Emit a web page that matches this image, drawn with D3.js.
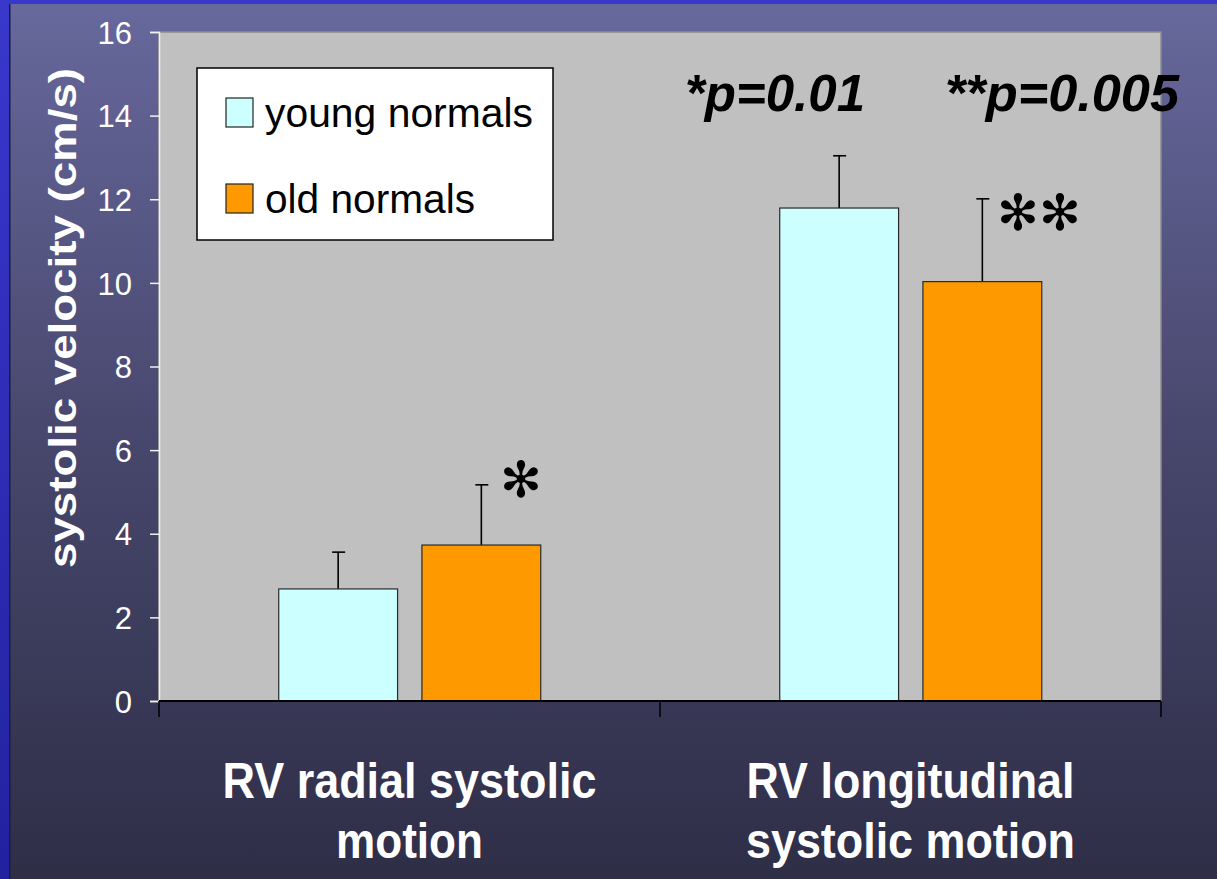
<!DOCTYPE html>
<html>
<head>
<meta charset="utf-8">
<script src="https://cdn.jsdelivr.net/npm/d3@7"></script>
<style>
  html, body { margin: 0; padding: 0; background: #2a2ab0; }
  svg { display: block; }
  text { font-family: "Liberation Sans", Arial, sans-serif; }
</style>
</head>
<body>
<svg id="chart" width="1217" height="879"></svg>
<script>
// Group labels (two lines each)
const groups = ["radial", "longitudinal"];
const groupLabels = [["RV radial systolic", "motion"], ["RV longitudinal", "systolic motion"]];
// Series
const series = ["young normals", "old normals"];
const seriesColors = ["#ccffff", "#ff9900"];
// Means and standard deviations (cm/s), per series, ordered by group
const youngMeans = [2.68, 11.79];
const youngSD = [0.88, 1.25];
const oldMeans = [3.73, 10.03];
const oldSD = [1.44, 1.98];
// Y axis ticks
const yTicks = [0, 2, 4, 6, 8, 10, 12, 14, 16];
// Significance notes
const pNotes = ["*p=0.01", "**p=0.005"];
const sigMarks = ["✻", "✻✻"];

const W = 1217, H = 879;
const plot = { left: 159, right: 1161, top: 32, bottom: 701 };

const svg = d3.select("#chart");
const defs = svg.append("defs");

// Slide background
const bg = defs.append("linearGradient").attr("id", "bg").attr("x1", 0).attr("y1", 0).attr("x2", 0).attr("y2", 1);
bg.append("stop").attr("offset", "0%").attr("stop-color", "#67689c");
bg.append("stop").attr("offset", "50%").attr("stop-color", "#47476d");
bg.append("stop").attr("offset", "100%").attr("stop-color", "#2e2e47");
const frame = defs.append("linearGradient").attr("id", "frame").attr("x1", 0).attr("y1", 0).attr("x2", 0).attr("y2", 1);
frame.append("stop").attr("offset", "0%").attr("stop-color", "#3838cc");
frame.append("stop").attr("offset", "100%").attr("stop-color", "#2222a0");

svg.append("rect").attr("width", W).attr("height", H).attr("fill", "url(#frame)");
svg.append("rect").attr("x", 10).attr("y", 4).attr("width", W - 10).attr("height", H - 4).attr("fill", "url(#bg)");
svg.append("rect").attr("x", 9).attr("y", 4).attr("width", 1.5).attr("height", H - 4).attr("fill", "#1c1c3a");

// Scales
const x0 = d3.scaleBand().domain(groups).range([plot.left, plot.right]).padding(0);
const x1 = d3.scaleBand().domain(series)
  .range([x0.bandwidth() * 0.239, x0.bandwidth() * 0.762]).paddingInner(0.17).paddingOuter(0);
const y = d3.scaleLinear().domain([0, 16]).range([plot.bottom, plot.top]);

// Plot area
svg.append("rect")
  .attr("x", plot.left).attr("y", plot.top)
  .attr("width", plot.right - plot.left).attr("height", plot.bottom - plot.top)
  .attr("fill", "#c0c0c0").attr("stroke", "#8c8c8c").attr("stroke-width", 1.5);

// Y axis
const yAxis = svg.append("g").attr("transform", `translate(${plot.left},0)`)
  .call(d3.axisLeft(y).tickValues(yTicks).tickSize(9).tickPadding(18));
yAxis.select(".domain").attr("stroke", "#f0f0f0").attr("stroke-width", 1.5);
yAxis.selectAll(".tick line").attr("stroke", "#f0f0f0").attr("stroke-width", 1.5);
yAxis.selectAll(".tick text").attr("fill", "#ffffff").attr("font-size", 31)
  .attr("font-family", "'Liberation Sans', Arial, sans-serif").attr("dy", "0.36em");

// Bars
const rows = groups.map((g, i) => ({
  group: g,
  values: [
    { key: series[0], mean: youngMeans[i], sd: youngSD[i], color: seriesColors[0] },
    { key: series[1], mean: oldMeans[i], sd: oldSD[i], color: seriesColors[1] }
  ]
}));

const gGroups = svg.append("g").selectAll("g").data(rows).join("g")
  .attr("transform", d => `translate(${x0(d.group)},0)`);

// Error bars (upper side)
gGroups.selectAll("g.err").data(d => d.values).join("g").attr("class", "err")
  .each(function(d) {
    const cx = x1(d.key) + x1.bandwidth() / 2;
    const g = d3.select(this);
    g.append("line").attr("x1", cx).attr("x2", cx)
      .attr("y1", y(d.mean)).attr("y2", y(d.mean + d.sd))
      .attr("stroke", "#000").attr("stroke-width", 1.6);
    g.append("line").attr("x1", cx - 6).attr("x2", cx + 7)
      .attr("y1", y(d.mean + d.sd)).attr("y2", y(d.mean + d.sd))
      .attr("stroke", "#000").attr("stroke-width", 1.6);
  });

gGroups.selectAll("rect").data(d => d.values).join("rect")
  .attr("x", d => x1(d.key))
  .attr("y", d => y(d.mean))
  .attr("width", x1.bandwidth())
  .attr("height", d => y(0) - y(d.mean))
  .attr("fill", d => d.color)
  .attr("stroke", "#2a2a2a").attr("stroke-width", 1.2);

// X axis
const xAxis = svg.append("g").attr("transform", `translate(0,${plot.bottom})`);
xAxis.append("line").attr("x1", plot.left).attr("x2", plot.right).attr("y1", 0).attr("y2", 0)
  .attr("stroke", "#000").attr("stroke-width", 2);
const boundaries = [plot.left].concat(groups.map(g => x0(g) + x0.bandwidth()));
xAxis.selectAll("line.tk").data(boundaries).join("line").attr("class", "tk")
  .attr("x1", d => d).attr("x2", d => d).attr("y1", 0).attr("y2", 16)
  .attr("stroke", "#000").attr("stroke-width", 1.5);

// Group labels
const labelWidths = [[374, 147], [328, 329]];
groups.forEach((g, i) => {
  const cx = x0(g) + x0.bandwidth() / 2;
  groupLabels[i].forEach((line, j) => {
    svg.append("text")
      .attr("x", cx).attr("y", 798 + j * 60)
      .attr("text-anchor", "middle")
      .attr("font-size", 50).attr("font-weight", "bold").attr("fill", "#ffffff")
      .attr("textLength", labelWidths[i][j]).attr("lengthAdjust", "spacingAndGlyphs")
      .text(line);
  });
});

// Y axis title
svg.append("text")
  .attr("transform", `translate(76,318) rotate(-90)`)
  .attr("text-anchor", "middle")
  .attr("font-size", 39).attr("font-weight", "bold").attr("fill", "#ffffff")
  .attr("textLength", 500).attr("lengthAdjust", "spacingAndGlyphs")
  .text("systolic velocity (cm/s)");

// Legend
const legend = svg.append("g").attr("transform", "translate(197,68)");
legend.append("rect").attr("width", 356).attr("height", 172)
  .attr("fill", "#ffffff").attr("stroke", "#000").attr("stroke-width", 1.5);
const legendWidths = [268, 210];
series.forEach((s, i) => {
  const row = legend.append("g").attr("transform", `translate(29,${30 + i * 86})`);
  row.append("rect").attr("width", 27).attr("height", 29)
    .attr("fill", seriesColors[i]).attr("stroke", "#222").attr("stroke-width", 1.2);
  row.append("text").attr("x", 39).attr("y", 29)
    .attr("font-size", 41).attr("fill", "#000")
    .attr("textLength", legendWidths[i]).attr("lengthAdjust", "spacingAndGlyphs")
    .text(s);
});

// p-value notes
const g2 = x0(groups[1]);
const noteStarts = [g2 + 25, g2 + 285];
const noteWidths = [180, 234];
pNotes.forEach((t, i) => {
  svg.append("text")
    .attr("x", noteStarts[i]).attr("y", y(14.1))
    .attr("font-size", 52).attr("font-weight", "bold").attr("font-style", "italic")
    .attr("fill", "#000")
    .attr("textLength", noteWidths[i]).attr("lengthAdjust", "spacingAndGlyphs")
    .text(t);
});

// Significance marks beside the old-normals error bars
rows.forEach((r, i) => {
  const d = r.values[1];
  const right = x0(r.group) + x1(d.key) + x1.bandwidth();
  svg.append("text")
    .attr("x", i === 0 ? right - 20 : right - 3)
    .attr("y", i === 0 ? y(d.mean + d.sd) - 5 : y(d.mean + d.sd) + 14)
    .attr("text-anchor", "middle").attr("dominant-baseline", "central")
    .attr("font-family", "'DejaVu Sans', sans-serif")
    .attr("font-size", 50).attr("fill", "#000")
    .text(sigMarks[i]);
});
</script>
</body>
</html>
